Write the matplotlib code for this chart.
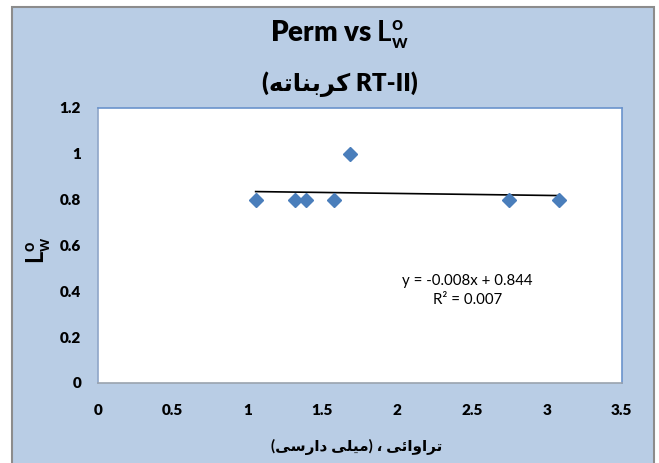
import numpy as np
import matplotlib
matplotlib.use("Agg")
import matplotlib.pyplot as plt
from matplotlib.patches import Rectangle

# === DATA ===
perm = [1.055, 1.32, 1.39, 1.576, 1.683, 2.745, 3.08]
lwo = [0.8, 0.8, 0.8, 0.8, 1.0, 0.8, 0.8]
x_ticks = [0, 0.5, 1, 1.5, 2, 2.5, 3, 3.5]
x_tick_labels = ["0", "0.5", "1", "1.5", "2", "2.5", "3", "3.5"]
y_ticks = [0, 0.2, 0.4, 0.6, 0.8, 1.0, 1.2]
y_tick_labels = ["0", "0.2", "0.4", "0.6", "0.8", "1", "1.2"]
eq_text = "y = -0.008x + 0.844"
r2_text = "R² = 0.007"

# Arabic words in visual (shaped, left-to-right) order
carbonate = "\uFEEA\uFE97\uFE8E\uFEE8\uFE91\uFEAE\uFEDB"          # کربناته
taravaei = "\uFEF0\uFE8B\uFE8D\uFEED\uFE8D\uFEAE\uFE97"           # تراوائی
mili = "\uFEF0\uFEE0\uFEF4\uFEE3"                                  # میلی
darsi = "\uFEF0\uFEB3\uFEAD\uFE8D\uFEA9"                           # دارسی

title1 = r"Perm vs $\mathbf{L_w^o}$"
title2 = "(" + carbonate + " RT-II)"
xlabel = "(" + darsi + " " + mili + ") \u060C " + taravaei
ylabel = r"$\mathbf{L_w^o}$"

# === STYLE ===
fam = ["Lato", "DejaVu Sans"]
plt.rcParams["font.family"] = fam
plt.rcParams["mathtext.fontset"] = "custom"
plt.rcParams["mathtext.rm"] = "Lato"
plt.rcParams["mathtext.bf"] = "Lato:bold"
plt.rcParams["mathtext.it"] = "Lato:italic"

W, H = 659, 463
fig = plt.figure(figsize=(W / 100, H / 100), dpi=100)
fig.patch.set_facecolor("white")

# chart area background with gray frame
bg = Rectangle((12 / W, -0.02), (654 - 12) / W, 1 - 7 / H + 0.02,
               transform=fig.transFigure, facecolor="#B9CDE5",
               edgecolor="#8C8C8C", linewidth=1.5, zorder=-10)
fig.patches.append(bg)

ax = fig.add_axes([97.7 / W, 1 - 383 / H, (621.7 - 97.7) / W, (383 - 108) / H])
ax.set_zorder(1)
ax.set_facecolor("white")
for s in ax.spines.values():
    s.set_color("#6A93CC")
    s.set_linewidth(1.2)
ax.spines["bottom"].set_color("#9AA3AE")
ax.spines["left"].set_color("#8FA6C8")

# data points
ax.plot(perm, lwo, linestyle="none", marker="D", markersize=7.2,
        color="#4A7EBB", markeredgecolor="#4A7EBB", zorder=3)

# linear trendline
coef = np.polyfit(perm, lwo, 1)
xt = np.array([min(perm), max(perm)])
ax.plot(xt, np.polyval(coef, xt), color="black", linewidth=1.2, zorder=2)

ax.text(2.47, 0.443, eq_text, ha="center", va="center", fontsize=10.8, color="black")
ax.text(2.47, 0.362, r2_text, ha="center", va="center", fontsize=10.8, color="black")

ax.set_xlim(0, 3.5)
ax.set_ylim(0, 1.2)
ax.set_xticks(x_ticks)
ax.set_xticklabels(x_tick_labels, fontweight="heavy", fontsize=11, color="black")
ax.set_yticks(y_ticks)
ax.set_yticklabels(y_tick_labels, fontweight="heavy", fontsize=11, color="black")
ax.tick_params(axis="x", length=0, pad=15)
ax.tick_params(axis="y", length=0, pad=12)

# titles and axis labels
fig.text(340 / W, 1 - 35 / H, title1, ha="center", va="center",
         fontsize=20, fontweight="heavy")
fig.text(340 / W, 1 - 84 / H, title2, ha="center", va="center",
         fontsize=17.5, fontweight="heavy", family=fam)
fig.text(357 / W, 1 - 447 / H, xlabel, ha="center", va="center",
         fontsize=11, fontweight="bold", family=fam)
fig.text(39 / W, 1 - 250 / H, ylabel, ha="center", va="center",
         fontsize=17, rotation=90)

fig.savefig("out.png", dpi=100)
